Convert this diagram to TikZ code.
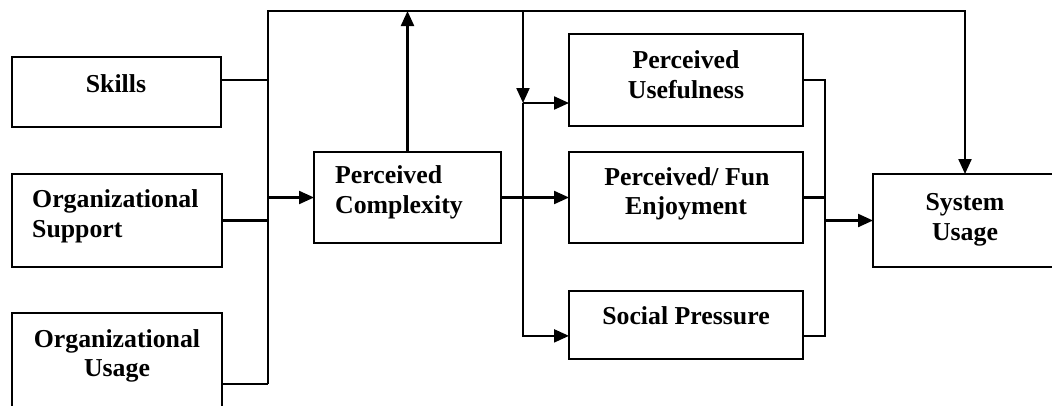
\documentclass[tikz,border=0pt]{standalone}
\usepackage{fontspec}
\setmainfont{Liberation Serif}
\usetikzlibrary{arrows.meta,calc}
\begin{document}
\begin{tikzpicture}[x=1pt,y=-1pt,
  box/.style={draw,line width=2.6pt,inner sep=0pt,outer sep=0pt},
  lbl/.style={font=\bfseries\fontsize{25.8}{30}\selectfont,inner sep=0pt,anchor=base},
  lbll/.style={lbl,anchor=base west},
  wire/.style={line width=2.2pt},
  arr/.style={wire,-{Triangle[length=15pt,width=13pt]}}]
\useasboundingbox (0,0) rectangle (1052,405);
\clip (0,0) rectangle (1052,405);

% boxes
\node[box,minimum width=209pt,minimum height=70pt] (skills) at (116.5,92) {};
\node[box,minimum width=210pt,minimum height=93pt] (orgsup) at (117,220.5) {};
\node[box,minimum width=210pt,minimum height=100pt] (orgusa) at (117,363) {};
\node[box,minimum width=187pt,minimum height=91pt] (complex) at (407.5,197.5) {};
\node[box,minimum width=234pt,minimum height=92pt] (useful) at (686,80) {};
\node[box,minimum width=234pt,minimum height=91pt] (enjoy) at (686,197.5) {};
\node[box,minimum width=234pt,minimum height=68pt] (social) at (686,325) {};
\node[box,minimum width=200pt,minimum height=93pt] (sysuse) at (973,220.5) {};

% labels
\node[lbl] (skillsT) at (116,92) {Skills};
\node[lbll] (orgsupA) at (32,207) {Organizational};
\node[lbll] (orgsupB) at (32,237) {Support};
\node[lbl] (orgusaA) at (117,347) {Organizational};
\node[lbl] (orgusaB) at (117,376) {Usage};
\node[lbll] (complexA) at (335,183) {Perceived};
\node[lbll] (complexB) at (335,213) {Complexity};
\node[lbl] (usefulA) at (686,68) {Perceived};
\node[lbl] (usefulB) at (686,98) {Usefulness};
\node[lbl] (enjoyA) at (687,185) {Perceived/ Fun};
\node[lbl] (enjoyB) at (686,214) {Enjoyment};
\node[lbl] (socialT) at (686,324) {Social Pressure};
\node[lbl] (sysuseA) at (965,210) {System};
\node[lbl] (sysuseB) at (965,240) {Usage};

% junction points
\coordinate (busTop) at (268,11);
\coordinate (busBot) at (268,384);
\coordinate (topRight) at (965,11);
\coordinate (splitTop) at (523,11);
\coordinate (split) at (523,103);
\coordinate (rbBot) at (825,336);
\coordinate (skOut) at ($(skills.north east)!0.33!(skills.south east)$);
\coordinate (socIn) at ($(social.north west)!0.66!(social.south west)$);

% left bus and top line
\draw[arr] (busBot) -- (busTop) -- (topRight) -- (topRight |- sysuse.north);
\draw[wire] (skOut) -- (skOut -| busTop);
\draw[wire] (orgsup.east) -- (orgsup.east -| busTop);
\draw[wire] (orgusa.east |- busBot) -- (busBot);
\draw[arr] (complex.west -| busTop) -- (complex.west);
\draw[arr] (complex.north) -- (complex.north |- busTop);

% middle fan-out
\draw[arr] (splitTop) -- (split);
\draw[arr] (split) -- (split -| useful.west);
\draw[arr] (split) |- (socIn);
\draw[arr] (complex.east) -- (enjoy.west);

% right bus into system usage
\draw[wire] (useful.east) -| (rbBot) -- (rbBot -| social.east);
\draw[wire] (enjoy.east) -- (enjoy.east -| rbBot);
\draw[arr] (rbBot |- sysuse.west) -- (sysuse.west);
\end{tikzpicture}
\end{document}
